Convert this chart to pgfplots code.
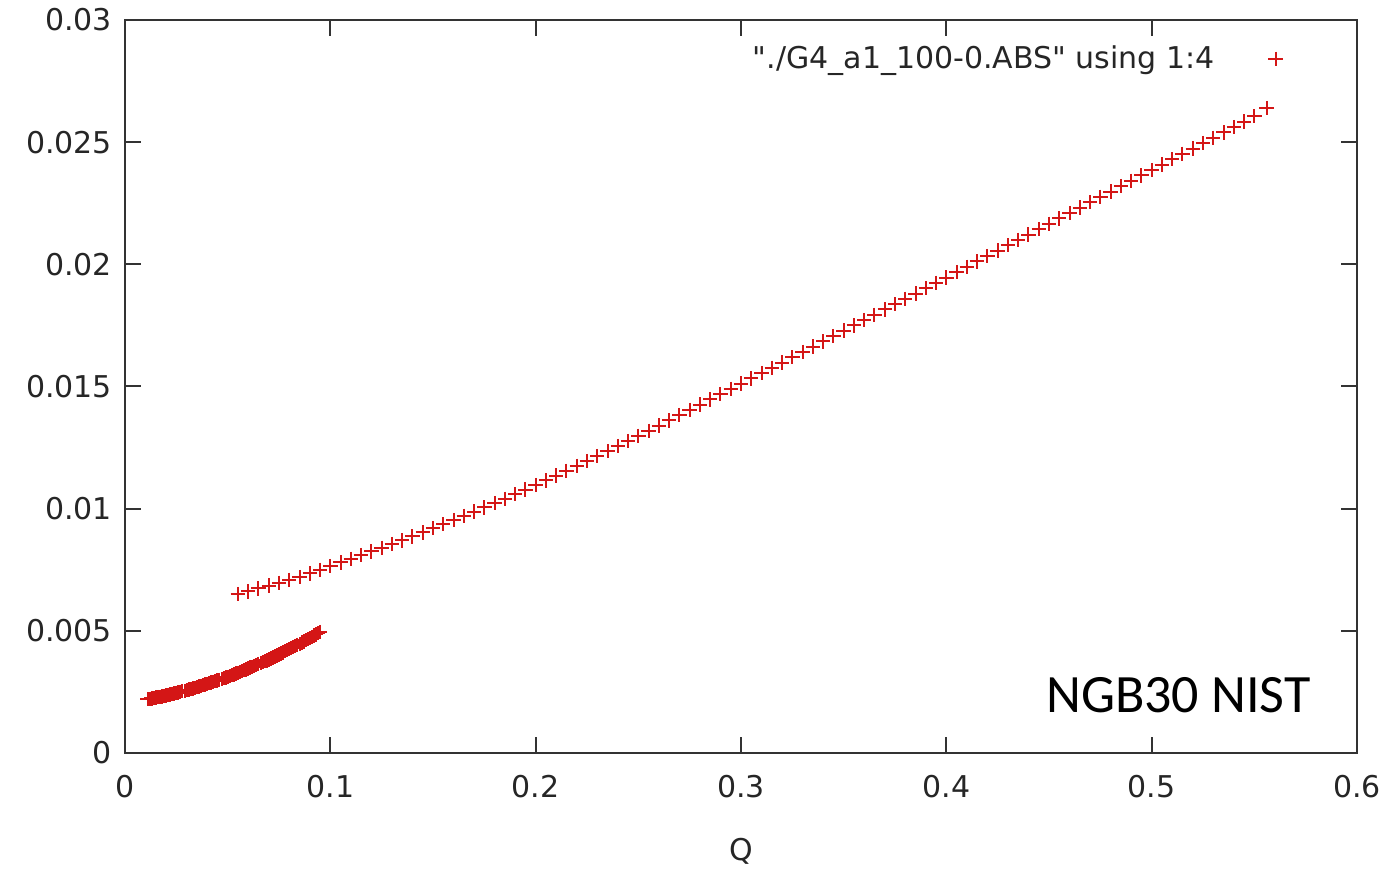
\documentclass[border=0pt]{standalone}
\usepackage{pgfplots}
\pgfplotsset{compat=1.18}
\usepackage{fontspec}
\setmainfont{DejaVu Sans}[Ligatures=TeXOff]
\newfontfamily\calibri{Carlito}
\definecolor{gpred}{RGB}{212,22,22}
\pgfplotsset{gplegend/.style={legend image code/.code={\path[draw=none,fill=none] (0pt,0pt) rectangle (32.1pt,0.1pt); \draw[##1] plot coordinates {(28.5pt,0pt)};}}}
\begin{document}
\begin{tikzpicture}
\begin{axis}[
  scale only axis,
  width=616pt, height=366.5pt,
  xmin=0, xmax=0.6, ymin=0, ymax=0.03,
  xtick={0,0.1,0.2,0.3,0.4,0.5,0.6},
  xticklabels={0,0.1,0.2,0.3,0.4,0.5,0.6},
  ytick={0,0.005,0.01,0.015,0.02,0.025,0.03},
  yticklabels={0,0.005,0.01,0.015,0.02,0.025,0.03},
  scaled ticks=false,
  tick align=inside,
  major tick length=8pt,
  axis line style={black!80, line width=1.2pt},
  every tick/.style={black!80, line width=1pt},
  tick label style={font=\fontsize{15}{17}\selectfont, text=black!85},
  xticklabel style={yshift=-7.5pt},
  yticklabel style={xshift=-3pt},
  xlabel={Q},
  xlabel style={font=\fontsize{15}{17}\selectfont, text=black!85, at={(rel axis cs:0.5,0)}, anchor=center, yshift=-49pt},
  legend style={draw=none, fill=none, at={(rel axis cs:0.945,0.976)}, anchor=north east,
    font=\fontsize{15}{17}\selectfont, text=black!85},
  legend cell align=right,
  legend plot pos=right,
  clip=false,
]
\addplot[only marks, mark=+, mark size=3.6pt, color=gpred, line width=1pt, gplegend] coordinates {
(0.011,0.002200)(0.012,0.002216)(0.013,0.002232)(0.014,0.002249)(0.015,0.002266)(0.016,0.002284)
(0.017,0.002301)(0.018,0.002320)(0.019,0.002338)(0.020,0.002358)(0.021,0.002377)(0.022,0.002397)
(0.023,0.002417)(0.024,0.002438)(0.025,0.002459)(0.026,0.002481)(0.027,0.002503)(0.028,0.002526)
(0.029,0.002548)(0.030,0.002572)(0.031,0.002595)(0.032,0.002619)(0.033,0.002643)(0.034,0.002668)
(0.035,0.002693)(0.036,0.002719)(0.037,0.002745)(0.038,0.002772)(0.039,0.002798)(0.040,0.002826)
(0.041,0.002853)(0.042,0.002882)(0.043,0.002910)(0.044,0.002939)(0.045,0.002968)(0.046,0.002998)
(0.047,0.003028)(0.048,0.003059)(0.049,0.003089)(0.050,0.003121)(0.051,0.003152)(0.052,0.003185)
(0.053,0.003217)(0.054,0.003250)(0.055,0.003283)(0.056,0.003317)(0.057,0.003351)(0.058,0.003386)
(0.059,0.003421)(0.060,0.003457)(0.061,0.003492)(0.062,0.003529)(0.063,0.003565)(0.064,0.003602)
(0.065,0.003639)(0.066,0.003677)(0.067,0.003715)(0.068,0.003754)(0.069,0.003793)(0.070,0.003833)
(0.071,0.003872)(0.072,0.003913)(0.073,0.003953)(0.074,0.003995)(0.075,0.004036)(0.076,0.004078)
(0.077,0.004120)(0.078,0.004163)(0.079,0.004206)(0.080,0.004250)(0.081,0.004294)(0.082,0.004339)
(0.083,0.004383)(0.084,0.004428)(0.085,0.004473)(0.086,0.004520)(0.087,0.004566)(0.088,0.004613)
(0.089,0.004660)(0.090,0.004708)(0.091,0.004756)(0.092,0.004805)(0.093,0.004853)(0.094,0.004903)
(0.095,0.004952)
(0.055,0.006500)(0.060,0.006617)(0.065,0.006733)(0.070,0.006850)(0.075,0.006967)
(0.080,0.007083)(0.085,0.007200)(0.090,0.007350)(0.095,0.007500)(0.100,0.007650)
(0.105,0.007800)(0.110,0.007950)(0.115,0.008100)(0.120,0.008250)(0.125,0.008400)
(0.130,0.008550)(0.135,0.008700)(0.140,0.008866)(0.145,0.009032)(0.150,0.009198)
(0.155,0.009364)(0.160,0.009530)(0.165,0.009704)(0.170,0.009878)(0.175,0.010052)
(0.180,0.010226)(0.185,0.010400)(0.190,0.010590)(0.195,0.010780)(0.200,0.010970)
(0.205,0.011160)(0.210,0.011350)(0.215,0.011550)(0.220,0.011750)(0.225,0.011950)
(0.230,0.012150)(0.235,0.012350)(0.240,0.012560)(0.245,0.012770)(0.250,0.012980)
(0.255,0.013190)(0.260,0.013400)(0.265,0.013614)(0.270,0.013828)(0.275,0.014042)
(0.280,0.014256)(0.285,0.014470)(0.290,0.014686)(0.295,0.014902)(0.300,0.015118)
(0.305,0.015334)(0.310,0.015550)(0.315,0.015766)(0.320,0.015982)(0.325,0.016198)
(0.330,0.016414)(0.335,0.016630)(0.340,0.016848)(0.345,0.017066)(0.350,0.017284)
(0.355,0.017502)(0.360,0.017720)(0.365,0.017936)(0.370,0.018152)(0.375,0.018368)
(0.380,0.018584)(0.385,0.018800)(0.390,0.019020)(0.395,0.019240)(0.400,0.019460)
(0.405,0.019680)(0.410,0.019900)(0.415,0.020120)(0.420,0.020340)(0.425,0.020560)
(0.430,0.020780)(0.435,0.021000)(0.440,0.021220)(0.445,0.021440)(0.450,0.021660)
(0.455,0.021880)(0.460,0.022100)(0.465,0.022320)(0.470,0.022540)(0.475,0.022760)
(0.480,0.022980)(0.485,0.023200)(0.490,0.023420)(0.495,0.023640)(0.500,0.023860)
(0.505,0.024080)(0.510,0.024300)(0.515,0.024520)(0.520,0.024740)(0.525,0.024960)
(0.530,0.025180)(0.535,0.025400)(0.540,0.025620)(0.545,0.025840)(0.550,0.026060)
(0.556,0.026400)
};
\addlegendentry{\symbol{34}./G4\_a1\_100-0.ABS\symbol{34} using 1:4}
\node[font=\calibri\fontsize{27}{30}\selectfont, text=black] at (rel axis cs:0.855,0.079) {NGB30 NIST};
\end{axis}
\path ([shift={(-62.5pt,-56pt)}]current axis.south west) rectangle ([shift={(19.5pt,10pt)}]current axis.north east);
\end{tikzpicture}
\end{document}
